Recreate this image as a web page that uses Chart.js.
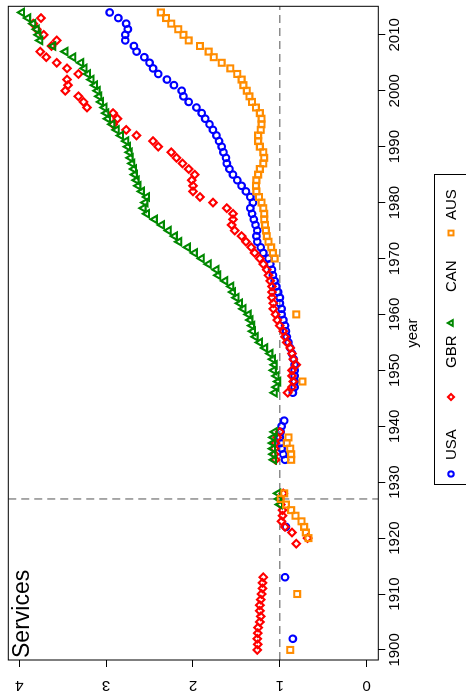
<!DOCTYPE html>
<html>
<head>
<meta charset="utf-8">
<script src="https://cdn.jsdelivr.net/npm/chart.js@4.4.1/dist/chart.umd.min.js"></script>
<style>
    html, body { margin: 0; padding: 0; background: #fff; overflow: hidden; }
    /* the chart is drawn landscape and turned a quarter turn to the left */
    #plotWrap {
        position: absolute;
        left: 0;
        top: 0;
        width: 699px;
        height: 466px;
        transform-origin: 0 0;
        transform: translateY(699px) rotate(-90deg);
    }
</style>
</head>
<body>
<div id="plotWrap"><canvas id="servicesChart" width="699" height="466"></canvas></div>
<script>
const panelTitle = 'Services';
const yearTicks = [1900, 1910, 1920, 1930, 1940, 1950, 1960, 1970, 1980, 1990, 2000, 2010];
const valueTicks = [0, 1, 2, 3, 4];
const baseYear = 1927;
const baseValue = 1;
const countries = ['USA', 'GBR', 'CAN', 'AUS'];

const usaYears = [1902, 1913, 1922, 1934, 1935, 1936, 1937, 1938, 1939, 1940, 1941,
    1946, 1947, 1948, 1949, 1950, 1951, 1952, 1953, 1954, 1955, 1956, 1957, 1958, 1959,
    1960, 1961, 1962, 1963, 1964, 1965, 1966, 1967, 1968, 1969, 1970, 1971, 1972, 1973,
    1974, 1975, 1976, 1977, 1978, 1979, 1980, 1981, 1982, 1983, 1984, 1985, 1986, 1987,
    1988, 1989, 1990, 1991, 1992, 1993, 1994, 1995, 1996, 1997, 1998, 1999, 2000, 2001,
    2002, 2003, 2004, 2005, 2006, 2007, 2008, 2009, 2010, 2011, 2012, 2013, 2014];
const usaValues = [0.85, 0.94, 0.93, 0.94, 0.96, 0.98, 0.99, 1.00, 0.99, 0.98, 0.95,
    0.85, 0.83, 0.83, 0.83, 0.83, 0.83, 0.84, 0.86, 0.88, 0.90, 0.92, 0.93, 0.94, 0.96,
    0.98, 0.98, 1.00, 1.00, 1.02, 1.04, 1.06, 1.08, 1.09, 1.11, 1.13, 1.19, 1.22, 1.26,
    1.27, 1.26, 1.28, 1.30, 1.32, 1.34, 1.31, 1.34, 1.39, 1.44, 1.49, 1.54, 1.58, 1.61,
    1.62, 1.65, 1.67, 1.70, 1.73, 1.77, 1.81, 1.86, 1.90, 1.96, 2.05, 2.11, 2.13, 2.22,
    2.30, 2.40, 2.46, 2.50, 2.56, 2.65, 2.68, 2.78, 2.78, 2.75, 2.77, 2.86, 2.96];

const gbrYears = [1900, 1901, 1902, 1903, 1904, 1905, 1906, 1907, 1908, 1909, 1910, 1911, 1912, 1913,
    1919, 1920, 1921, 1922, 1923, 1924, 1925, 1926, 1927, 1928,
    1934, 1935, 1936, 1937, 1938, 1939,
    1946, 1947, 1948, 1949, 1950, 1951, 1952, 1953, 1954, 1955, 1956, 1957, 1958, 1959,
    1960, 1961, 1962, 1963, 1964, 1965, 1966, 1967, 1968, 1969, 1970, 1971, 1972, 1973,
    1974, 1975, 1976, 1977, 1978, 1979, 1980, 1981, 1982, 1983, 1984, 1985, 1986, 1987,
    1988, 1989, 1990, 1991, 1992, 1993, 1994, 1995, 1996, 1997, 1998, 1999, 2000, 2001,
    2002, 2003, 2004, 2005, 2006, 2007, 2008, 2009, 2010, 2011, 2012, 2013];
const gbrValues = [1.26, 1.255, 1.26, 1.255, 1.25, 1.23, 1.22, 1.23, 1.23, 1.22, 1.21, 1.20, 1.20, 1.19,
    0.81, 0.68, 0.86, 0.94, 0.98, 0.97, 0.97, 0.99, 1.00, 0.96,
    1.05, 1.06, 1.06, 1.05, 1.03, 1.00,
    0.91, 0.86, 0.845, 0.86, 0.86, 0.81, 0.845, 0.86, 0.88, 0.92, 0.94, 0.96, 1.00, 1.03,
    1.05, 1.075, 1.075, 1.09, 1.09, 1.09, 1.11, 1.13, 1.15, 1.19, 1.23, 1.29, 1.33, 1.39,
    1.44, 1.52, 1.555, 1.54, 1.54, 1.61, 1.77, 1.92, 2.00, 2.00, 2.015, 1.98, 2.05, 2.12,
    2.19, 2.25, 2.40, 2.46, 2.65, 2.77, 2.92, 2.87, 2.92, 3.22, 3.26, 3.32, 3.47, 3.44,
    3.45, 3.32, 3.45, 3.57, 3.69, 3.76, 3.63, 3.57, 3.72, 3.80, 3.84, 3.75];

const canYears = [1926, 1927, 1928, 1934, 1935, 1936, 1937, 1938, 1939,
    1946, 1947, 1948, 1949, 1950, 1951, 1952, 1953, 1954, 1955, 1956, 1957, 1958, 1959,
    1960, 1961, 1962, 1963, 1964, 1965, 1966, 1967, 1968, 1969, 1970, 1971, 1972, 1973,
    1974, 1975, 1976, 1977, 1978, 1979, 1980, 1981, 1982, 1983, 1984, 1985, 1986, 1987,
    1988, 1989, 1990, 1991, 1992, 1993, 1994, 1995, 1996, 1997, 1998, 1999, 2000, 2001,
    2002, 2003, 2004, 2005, 2006, 2007, 2008, 2009, 2010, 2011, 2012, 2013, 2014];
const canValues = [1.00, 1.01, 1.02, 1.07, 1.075, 1.08, 1.08, 1.075, 1.06,
    1.06, 1.04, 1.02, 1.04, 1.07, 1.06, 1.08, 1.11, 1.17, 1.23, 1.28, 1.31, 1.32, 1.34,
    1.36, 1.42, 1.46, 1.50, 1.54, 1.56, 1.63, 1.71, 1.73, 1.82, 1.90, 1.98, 2.06, 2.16,
    2.21, 2.28, 2.36, 2.44, 2.53, 2.57, 2.55, 2.53, 2.59, 2.63, 2.65, 2.67, 2.68, 2.70,
    2.72, 2.73, 2.75, 2.77, 2.83, 2.88, 2.93, 2.98, 3.00, 3.02, 3.06, 3.08, 3.10, 3.13,
    3.17, 3.21, 3.25, 3.29, 3.38, 3.47, 3.61, 3.76, 3.78, 3.80, 3.84, 3.90, 3.97];

const ausYears = [1900, 1910, 1920, 1921, 1922, 1923, 1924, 1925, 1926, 1927, 1928,
    1934, 1935, 1936, 1937, 1938, 1948, 1960,
    1970, 1971, 1972, 1973, 1974, 1975, 1976, 1977, 1978, 1979, 1980, 1981, 1982, 1983,
    1984, 1985, 1986, 1987, 1988, 1989, 1990, 1991, 1992, 1993, 1994, 1995, 1996, 1997,
    1998, 1999, 2000, 2001, 2002, 2003, 2004, 2005, 2006, 2007, 2008, 2009, 2010, 2011,
    2012, 2013, 2014];
const ausValues = [0.88, 0.80, 0.67, 0.70, 0.72, 0.75, 0.82, 0.87, 0.93, 0.99, 0.95,
    0.87, 0.87, 0.88, 0.92, 0.90, 0.74, 0.81,
    1.06, 1.08, 1.10, 1.13, 1.15, 1.16, 1.17, 1.18, 1.18, 1.19, 1.21, 1.24, 1.27, 1.275,
    1.27, 1.25, 1.23, 1.19, 1.18, 1.19, 1.23, 1.25, 1.25, 1.22, 1.21, 1.21, 1.23, 1.275,
    1.32, 1.35, 1.38, 1.42, 1.44, 1.49, 1.57, 1.67, 1.76, 1.82, 1.92, 2.05, 2.11, 2.17,
    2.25, 2.31, 2.37];

const fontFamily = '"Liberation Sans", Arial, sans-serif';

let servicesChart;

document.addEventListener('DOMContentLoaded', () => {
    tekenGrafiek();
});

function toPoints(years, values) {
    return years.map((year, i) => ({ x: year, y: values[i] }));
}

function seriesStyle(label, data, color, pointStyle, radius, order) {
    return {
        label: label,
        data: data,
        borderColor: color,
        backgroundColor: 'rgba(0,0,0,0)',
        pointStyle: pointStyle,
        pointRadius: radius,
        pointBorderWidth: 2.1,
        showLine: false,
        order: order
    };
}

// dashed guide lines at the base year and at 1
const refLinePlugin = {
    id: 'refLines',
    beforeDatasetsDraw(chart) {
        const { ctx, chartArea: a, scales: { x, y } } = chart;
        ctx.save();
        ctx.beginPath();
        ctx.rect(a.left, a.top, a.width, a.height);
        ctx.clip();
        ctx.strokeStyle = '#8c8c8c';
        ctx.lineWidth = 1.5;
        ctx.setLineDash([8, 5]);
        const py = y.getPixelForValue(baseValue);
        ctx.beginPath();
        ctx.moveTo(a.left, py);
        ctx.lineTo(a.right, py);
        ctx.stroke();
        const px = x.getPixelForValue(baseYear);
        ctx.beginPath();
        ctx.moveTo(px, a.top);
        ctx.lineTo(px, a.bottom);
        ctx.stroke();
        ctx.restore();
    }
};

// frame, panel title and the boxed legend under the axis
const framePlugin = {
    id: 'frameLegend',
    afterDraw(chart) {
        const { ctx, chartArea: a } = chart;
        ctx.save();
        ctx.strokeStyle = '#000';
        ctx.lineWidth = 1;
        ctx.setLineDash([]);
        ctx.strokeRect(a.left, a.top, a.width, a.height);

        ctx.fillStyle = '#000';
        ctx.font = '23px ' + fontFamily;
        ctx.textBaseline = 'alphabetic';
        ctx.textAlign = 'left';
        ctx.fillText(panelTitle, a.left + 2, a.top + 20.5);

        ctx.strokeRect(214.5, 434.5, 310, 60);
        const symbolX = [225, 302, 376, 466];
        const textX = [239, 331, 407, 479];
        ctx.font = '15px ' + fontFamily;
        ctx.textBaseline = 'middle';
        chart.data.datasets.forEach((ds, i) => {
            ctx.strokeStyle = ds.borderColor;
            ctx.fillStyle = 'rgba(0,0,0,0)';
            ctx.lineWidth = 2;
            Chart.helpers.drawPoint(ctx, { pointStyle: ds.pointStyle, radius: ds.pointRadius * 0.8, borderWidth: 2 }, symbolX[i], 451);
            ctx.fillStyle = '#000';
            ctx.fillText(ds.label, textX[i], 452);
        });
        ctx.restore();
    }
};

function tekenGrafiek() {
    const ctx = document.getElementById('servicesChart').getContext('2d');
    servicesChart = new Chart(ctx, {
        type: 'scatter',
        data: {
            datasets: [
                seriesStyle(countries[0], toPoints(usaYears, usaValues), '#0000ff', 'circle', 3.3, 4),
                seriesStyle(countries[1], toPoints(gbrYears, gbrValues), '#ff0000', 'rectRot', 3.8, 3),
                seriesStyle(countries[2], toPoints(canYears, canValues), '#008800', 'triangle', 4.2, 2),
                seriesStyle(countries[3], toPoints(ausYears, ausValues), '#ff8c00', 'rect', 4.2, 1)
            ]
        },
        options: {
            responsive: false,
            devicePixelRatio: 1,
            animation: false,
            layout: { padding: { left: 0, top: 8.3, right: 5, bottom: 0 } },
            plugins: {
                legend: { display: false },
                tooltip: { enabled: false }
            },
            scales: {
                x: {
                    type: 'linear',
                    position: 'bottom',
                    min: 1898.2,
                    max: 2015.1,
                    afterBuildTicks: axis => { axis.ticks = yearTicks.map(v => ({ value: v })); },
                    afterFit: axis => {
                        axis.height = 87.7;
                        axis.paddingLeft = 0;
                        axis.paddingRight = 0;
                    },
                    grid: { drawOnChartArea: false, tickLength: 7, tickColor: '#000', color: '#000' },
                    border: { display: false },
                    ticks: {
                        color: '#000',
                        padding: 1,
                        maxRotation: 0,
                        font: { family: fontFamily, size: 15 },
                        callback: v => String(v)
                    },
                    title: {
                        display: true,
                        text: 'year',
                        color: '#000',
                        font: { family: fontFamily, size: 15 },
                        padding: { top: 0, bottom: 44 }
                    }
                },
                y: {
                    type: 'linear',
                    position: 'left',
                    min: -0.134,
                    max: 4.127,
                    afterBuildTicks: axis => { axis.ticks = valueTicks.map(v => ({ value: v })); },
                    afterFit: axis => {
                        axis.width = 39;
                        axis.paddingTop = 0;
                        axis.paddingBottom = 0;
                    },
                    grid: { drawOnChartArea: false, tickLength: 7, tickColor: '#000', color: '#000' },
                    border: { display: false },
                    ticks: {
                        color: '#000',
                        padding: 14,
                        minRotation: 90,
                        maxRotation: 90,
                        crossAlign: 'center',
                        font: { family: fontFamily, size: 15 },
                        callback: v => String(v)
                    }
                }
            }
        },
        plugins: [refLinePlugin, framePlugin]
    });
}
</script>
</body>
</html>
